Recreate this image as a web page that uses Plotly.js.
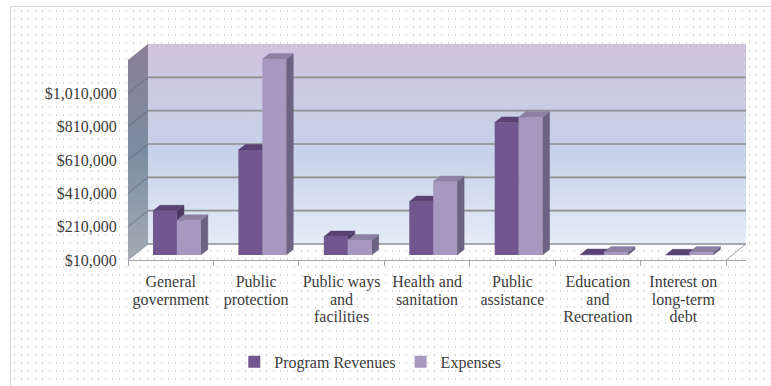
<!DOCTYPE html>
<html>
<head>
<meta charset="utf-8">
<script src="https://cdn.plot.ly/plotly-3.0.1.min.js"></script>
<style>
  html, body { margin: 0; padding: 0; background: #fff; }
  #frame {
    position: absolute; left: 10px; top: 6px; width: 800px; height: 400px;
    border: 1px solid #d6d6d6; background-color: #fff;
    background-image: radial-gradient(circle, #d4d4d4 0.7px, rgba(255,255,255,0) 1.1px);
    background-size: 7px 8px;
  }
  #chart { position: absolute; left: 0; top: 0; width: 771px; height: 386px; }
</style>
</head>
<body>
<div id="frame"></div>
<div id="chart"></div>
<script>
// Functions of government: program revenues vs. expenses
const categories = ['General government', 'Public protection', 'Public ways and facilities',
  'Health and sanitation', 'Public assistance', 'Education and Recreation', 'Interest on long-term debt'];
const tickLabels = ['General<br>government', 'Public<br>protection', 'Public ways<br>and<br>facilities',
  'Health and<br>sanitation', 'Public<br>assistance', 'Education<br>and<br>Recreation', 'Interest on<br>long-term<br>debt'];
const programRevenues = [275000, 640000, 120000, 330000, 805000, 12000, 10500];
const expenses = [218000, 1185000, 100000, 450000, 837000, 28000, 27000];
const yTickValues = [10000, 210000, 410000, 610000, 810000, 1010000];
const yTickLabels = ['$10,000', '$210,000', '$410,000', '$610,000', '$810,000', '$1,010,000'];

// Axis extent and oblique depth projection (back plane offset in axis units)
const AXIS_MIN = 10000, AXIS_MAX = 1210000;
const DEPTH_X = 0.234, DEPTH_Y = 96000;
const BAR_W = 0.28, BAR_D0 = 0.31, BAR_D1 = 0.66;
const n = categories.length;
const X0 = -0.5, X1 = n - 0.5;

function P(x, v, d) { return [x + d * DEPTH_X, v + d * DEPTH_Y]; }
function addPoly(acc, pts, closed) {
  pts.forEach(p => { acc.x.push(p[0]); acc.y.push(p[1]); });
  if (closed) { acc.x.push(pts[0][0]); acc.y.push(pts[0][1]); }
  acc.x.push(null); acc.y.push(null);
}

const FONT = '"Liberation Serif", "Times New Roman", serif';
const TEXT = '#3c3c3c';
const traces = [];

// Left wall
const lw = { x: [], y: [] };
addPoly(lw, [P(X0, AXIS_MIN, 0), P(X0, AXIS_MAX, 0), P(X0, AXIS_MAX, 1), P(X0, AXIS_MIN, 1)], true);
traces.push({ type: 'scatter', mode: 'lines', x: lw.x, y: lw.y, fill: 'toself',
  fillgradient: { type: 'vertical', colorscale: [[0, '#a4acb4'], [0.5, '#7b8ca2'], [1, '#8a7f98']] },
  line: { width: 0 }, hoverinfo: 'skip', showlegend: false });

// Back wall
const bw = { x: [], y: [] };
addPoly(bw, [P(X0, AXIS_MIN, 1), P(X0, AXIS_MAX, 1), P(X1, AXIS_MAX, 1), P(X1, AXIS_MIN, 1)], true);
traces.push({ type: 'scatter', mode: 'lines', x: bw.x, y: bw.y, fill: 'toself',
  fillgradient: { type: 'vertical', colorscale: [[0, '#e5ecf7'], [0.45, '#c6d2ea'], [1, '#d0c3de']] },
  line: { width: 0 }, hoverinfo: 'skip', showlegend: false });

// Gridlines on back and left walls
const gb = { x: [], y: [] }, gl = { x: [], y: [] };
yTickValues.forEach(v => {
  addPoly(gb, [P(X0, v, 1), P(X1, v, 1)], false);
  addPoly(gl, [P(X0, v, 0), P(X0, v, 1)], false);
});
traces.push({ type: 'scatter', mode: 'lines', x: gl.x, y: gl.y,
  line: { color: 'rgba(90,90,110,0.35)', width: 1.2 }, hoverinfo: 'skip', showlegend: false });
traces.push({ type: 'scatter', mode: 'lines', x: gb.x, y: gb.y,
  line: { color: '#8e8e8e', width: 1.6 }, hoverinfo: 'skip', showlegend: false });

// Floor right edge
const fe = { x: [], y: [] };
addPoly(fe, [P(X1, AXIS_MIN, 0), P(X1, AXIS_MIN, 1)], false);
traces.push({ type: 'scatter', mode: 'lines', x: fe.x, y: fe.y,
  line: { color: '#a6a6a6', width: 1 }, hoverinfo: 'skip', showlegend: false });

// Side and top faces of the columns
function faces(values, offset) {
  const side = { x: [], y: [] }, top = { x: [], y: [] };
  values.forEach((v, i) => {
    const xl = i + offset, xr = xl + BAR_W;
    addPoly(top, [P(xl, v, BAR_D0), P(xr, v, BAR_D0), P(xr, v, BAR_D1), P(xl, v, BAR_D1)], true);
    addPoly(side, [P(xr, AXIS_MIN, BAR_D0), P(xr, v, BAR_D0), P(xr, v, BAR_D1), P(xr, AXIS_MIN, BAR_D1)], true);
  });
  return { side, top };
}
function faceTrace(poly, color) {
  return { type: 'scatter', mode: 'lines', x: poly.x, y: poly.y, fill: 'toself',
    fillcolor: color, line: { color: color, width: 0.5 }, hoverinfo: 'skip', showlegend: false };
}
const revFaces = faces(programRevenues, -BAR_W);
const expFaces = faces(expenses, 0);
traces.push(faceTrace(revFaces.side, '#4c3962'));
traces.push(faceTrace(revFaces.top, '#5a4274'));
traces.push(faceTrace(expFaces.side, '#6c6281'));
traces.push(faceTrace(expFaces.top, '#8d82a4'));

// Front faces of the columns
const idx = categories.map((c, i) => i + BAR_D0 * DEPTH_X);
traces.push({ type: 'bar', name: 'Program Revenues', x: idx,
  y: programRevenues.map(v => v - AXIS_MIN), base: AXIS_MIN + BAR_D0 * DEPTH_Y,
  offset: -BAR_W, width: BAR_W, marker: { color: '#725690', line: { width: 0 } },
  customdata: categories, hovertemplate: '%{customdata}: %{y}<extra></extra>',
  xaxis: 'x2', yaxis: 'y2' });
traces.push({ type: 'bar', name: 'Expenses', x: idx,
  y: expenses.map(v => v - AXIS_MIN), base: AXIS_MIN + BAR_D0 * DEPTH_Y,
  offset: 0, width: BAR_W, marker: { color: '#a798bf', line: { width: 0 } },
  customdata: categories, hovertemplate: '%{customdata}: %{y}<extra></extra>',
  xaxis: 'x2', yaxis: 'y2' });

const xRange = [X0, X1 + DEPTH_X];
const yRange = [AXIS_MIN, AXIS_MAX + DEPTH_Y];
const boundaries = categories.map((c, i) => i - 0.5).concat([X1]);

const layout = {
  width: 771, height: 386,
  margin: { l: 128, r: 25, t: 44, b: 126, autoexpand: false },
  paper_bgcolor: 'rgba(0,0,0,0)', plot_bgcolor: 'rgba(0,0,0,0)',
  font: { family: FONT, size: 16, color: TEXT },
  barmode: 'overlay',
  xaxis: {
    range: xRange, fixedrange: true, showgrid: false, zeroline: false,
    tickmode: 'array', tickvals: categories.map((c, i) => i), ticktext: tickLabels,
    ticks: 'outside', ticklen: 7, tickcolor: 'rgba(0,0,0,0)',
    showline: true, linecolor: '#a6a6a6', linewidth: 1,
    minor: { tickmode: 'array', tickvals: boundaries, ticks: 'outside', ticklen: 5,
             tickcolor: '#a6a6a6', tickwidth: 1, showgrid: false },
    tickfont: { family: FONT, size: 16, color: TEXT }
  },
  yaxis: {
    range: yRange, fixedrange: true, showgrid: false, zeroline: false,
    tickmode: 'array', tickvals: yTickValues, ticktext: yTickLabels,
    ticks: 'outside', ticklen: 7, tickcolor: 'rgba(0,0,0,0)', showline: false,
    tickfont: { family: FONT, size: 16, color: TEXT }
  },
  xaxis2: { overlaying: 'x', range: xRange, visible: false, fixedrange: true },
  yaxis2: { overlaying: 'y', range: yRange, visible: false, fixedrange: true },
  legend: {
    orientation: 'h', x: 0.172, xanchor: 'left', y: -0.393, yanchor: 'top',
    bgcolor: 'rgba(0,0,0,0)', font: { family: FONT, size: 16, color: TEXT },
    traceorder: 'normal'
  },
  showlegend: true
};

Plotly.newPlot('chart', traces, layout, { staticPlot: true, displayModeBar: false }).then(gd => {
  // Tighter line spacing for the wrapped category labels
  gd.querySelectorAll('.xtick text tspan.line').forEach(t => {
    const dy = t.getAttribute('dy');
    if (dy && dy.endsWith('em')) t.setAttribute('dy', (parseFloat(dy) * 0.84) + 'em');
  });
});
</script>
</body>
</html>
